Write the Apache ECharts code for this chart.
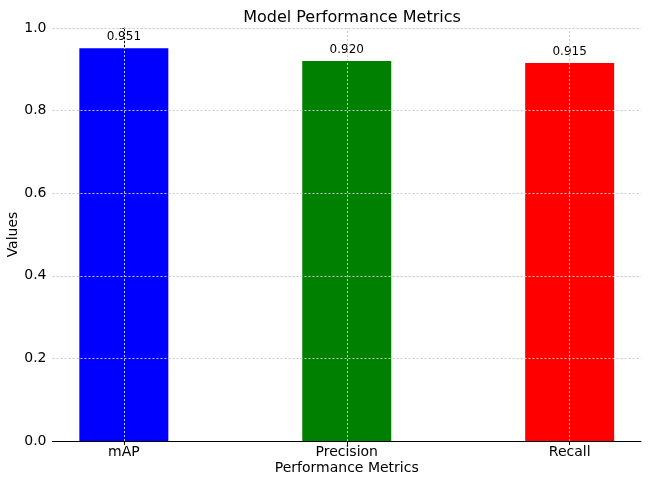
<!DOCTYPE html>
<html>
<head>
<meta charset="utf-8">
<script src="https://cdn.jsdelivr.net/npm/echarts@6/dist/echarts.min.js"></script>
<style>html,body{margin:0;padding:0;background:#fff}#c{width:650px;height:485px}</style>
</head>
<body>
<div id="c"></div>
<script>
const categories = ['mAP', 'Precision', 'Recall'];
const values = [0.951, 0.920, 0.915];
const colors = ['#0000ff', '#008000', '#ff0000'];
const yTicks = [0.2, 0.4, 0.6, 0.8, 1.0];

const chart = echarts.init(document.getElementById('c'));
const font = 'DejaVu Sans';
const gridStyle = { color: '#c8c8c8', width: 1, type: [2, 2] };
const markData = categories.map((c, i) => ({ xAxis: i }))
  .concat(yTicks.map(v => ({ yAxis: v })));

chart.setOption({
  animation: false,
  textStyle: { fontFamily: font },
  title: {
    text: 'Model Performance Metrics',
    left: 347, top: 5, textAlign: 'center',
    textStyle: { fontFamily: font, fontSize: 16, fontWeight: 'normal', color: '#000' }
  },
  grid: { left: 52.5, right: 9, top: 28, bottom: 44, outerBoundsMode: 'none' },
  xAxis: {
    type: 'value', min: -0.32, max: 2.32,
    name: 'Performance Metrics', nameLocation: 'middle', nameGap: 20, nameMoveOverlap: false,
    nameTextStyle: { fontFamily: font, fontSize: 14, color: '#000' },
    axisLine: { show: true, lineStyle: { color: '#000', width: 1 } },
    axisTick: { show: true, customValues: [0, 1, 2], length: 4, lineStyle: { color: '#000' } },
    axisLabel: { customValues: [0, 1, 2], formatter: v => categories[Math.round(v)] || '',
      fontFamily: font, fontSize: 14, color: '#000', margin: 4 },
    splitLine: { show: false }
  },
  yAxis: {
    type: 'value', min: 0, max: 1, interval: 0.2,
    name: 'Values', nameLocation: 'middle', nameGap: 32, nameMoveOverlap: false,
    nameTextStyle: { fontFamily: font, fontSize: 14, color: '#000' },
    axisLine: { show: true, lineStyle: { color: '#000', width: 1 } },
    axisTick: { show: true, length: 4, lineStyle: { color: '#000' } },
    axisLabel: { formatter: v => v.toFixed(1), fontFamily: font, fontSize: 14, color: '#000', margin: 6 },
    splitLine: { show: false }
  },
  series: [{
    type: 'bar',
    barWidth: 89,
    data: values.map((v, i) => ({ value: [i, v], itemStyle: { color: colors[i] } })),
    label: {
      show: true, position: 'top', distance: 5,
      formatter: p => p.value[1].toFixed(3),
      fontFamily: font, fontSize: 12, color: '#000'
    },
    markLine: {
      silent: true, symbol: 'none', label: { show: false },
      lineStyle: gridStyle, z: 10,
      data: markData
    }
  }]
});
</script>
</body>
</html>
